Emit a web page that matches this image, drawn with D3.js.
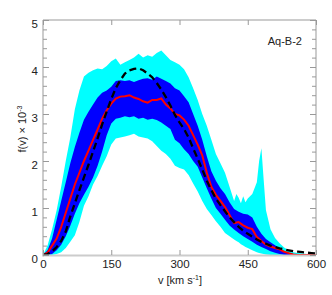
<!DOCTYPE html>
<html><head><meta charset="utf-8">
<script src="https://cdn.jsdelivr.net/npm/d3@7"></script>
<style>body{margin:0;background:#fff}svg{display:block}text{font-family:"Liberation Sans",Arial,sans-serif;fill:#222}</style>
</head><body><svg id="c" width="332" height="295"></svg>
<script>
// ---- data ----
const v = d3.range(0, 601, 10);
const median = [0,0.05,0.2,0.35,0.6,0.9,1.2,1.5,1.75,2.0,2.22,2.45,2.67,2.9,3.08,3.22,3.33,3.37,3.38,3.4,3.35,3.32,3.27,3.24,3.3,3.3,3.33,3.2,3.12,3.0,2.97,2.88,2.75,2.55,2.35,2.12,1.75,1.45,1.28,1.15,1.02,0.85,0.68,0.7,0.63,0.58,0.55,0.38,0.3,0.22,0.18,0.15,0.12,0.07,0.04,0.01,0,0,0,0,0];
const model = [0,0.02,0.08,0.17,0.3,0.5,0.82,1.1,1.38,1.65,1.92,2.2,2.48,2.78,3.05,3.32,3.55,3.72,3.86,3.93,3.96,3.97,3.93,3.86,3.78,3.66,3.52,3.36,3.18,2.98,2.82,2.68,2.5,2.27,2.05,1.82,1.58,1.38,1.2,1.06,0.93,0.8,0.7,0.6,0.52,0.45,0.39,0.33,0.28,0.24,0.2,0.17,0.14,0.12,0.1,0.08,0.07,0.06,0.05,0.04,0.03];
const innerHi = [0,0.1,0.35,0.75,1.15,1.55,1.95,2.3,2.6,2.88,3.05,3.2,3.35,3.45,3.5,3.58,3.7,3.72,3.7,3.72,3.68,3.72,3.75,3.76,3.73,3.8,3.75,3.7,3.65,3.55,3.5,3.38,3.25,3.0,2.75,2.45,2.1,1.78,1.58,1.42,1.3,1.12,0.98,0.92,0.88,0.86,0.8,0.6,0.45,0.34,0.27,0.21,0.14,0.07,0.03,0,0,0,0,0,0];
const innerLo = [0,0,0.02,0.1,0.22,0.4,0.62,0.88,1.1,1.28,1.45,1.65,1.9,2.2,2.55,2.8,2.9,2.92,2.95,2.93,2.95,2.9,2.92,2.88,2.9,2.87,2.82,2.75,2.68,2.45,2.38,2.25,2.15,2.0,1.88,1.65,1.42,1.2,1.0,0.88,0.75,0.63,0.54,0.47,0.4,0.34,0.28,0.22,0.17,0.13,0.08,0.05,0.02,0,0,0,0,0,0,0,0];
const vOuter = [0,10,20,30,40,50,60,70,80,90,100,110,120,130,140,150,160,170,180,190,200,210,220,230,240,250,260,270,280,290,300,310,320,330,340,350,360,370,380,390,400,410,420,425,430,435,440,445,450,460,470,475,480,485,490,500,510,520,530,540,550,560,570,580,590,600];
const outerHi = [0,0.2,0.55,0.95,1.45,2.0,2.5,3.1,3.5,3.8,3.88,3.93,3.97,3.95,4.02,4.12,4.18,4.05,4.1,4.15,4.2,4.28,4.2,4.25,4.22,4.3,4.35,4.25,4.15,4.1,4.05,3.95,3.78,3.55,3.3,3.0,2.75,2.45,2.15,1.95,1.75,1.45,1.15,1.3,1.22,1.1,1.25,1.12,1.2,1.3,1.55,2.0,2.27,1.6,0.95,0.55,0.36,0.25,0.16,0.1,0.06,0.04,0.03,0.02,0.01,0];
const outerLo = [0,0,0,0.02,0.06,0.15,0.28,0.42,0.7,1.05,1.25,1.5,1.68,1.9,2.1,2.35,2.48,2.5,2.52,2.55,2.58,2.52,2.5,2.48,2.42,2.32,2.22,2.15,2.05,1.9,1.85,1.82,1.7,1.52,1.35,1.15,0.98,0.85,0.72,0.6,0.47,0.4,0.33,0.3,0.27,0.23,0.2,0.17,0.15,0.1,0.06,0.04,0.03,0.02,0.01,0,0,0,0,0,0,0,0,0,0,0];
const xTicks = [0,150,300,450,600];
const yTicks = [0,1,2,3,4,5];
const label = "Aq-B-2";

// ---- layout ----
const L = 43, R = 316, T = 20, B = 255;
const svg = d3.select("#c");
const x = d3.scaleLinear().domain([0,600]).range([L,R]);
const y = d3.scaleLinear().domain([0,5]).range([B,T]);

svg.append("defs").append("clipPath").attr("id","clip")
  .append("rect").attr("x",L).attr("y",T-2).attr("width",R-L).attr("height",B-T+2);
const g = svg.append("g").attr("clip-path","url(#clip)");

const areaOuter = d3.area().x((d,i)=>x(vOuter[i])).y0((d,i)=>y(outerLo[i])).y1((d,i)=>y(outerHi[i]));
const areaInner = d3.area().x((d,i)=>x(v[i])).y0((d,i)=>y(innerLo[i])).y1((d,i)=>y(innerHi[i]));
g.append("path").attr("d", areaOuter(vOuter)).attr("fill","#00ffff");
g.append("path").attr("d", areaInner(v)).attr("fill","#0000ff");

const line = arr => d3.line().x((d,i)=>x(v[i])).y((d,i)=>y(arr[i]))(v);
svg.append("path").attr("d", line(median)).attr("fill","none").attr("stroke","#ff0000").attr("stroke-width",2);
svg.append("path").attr("d", line(model)).attr("fill","none").attr("stroke","#000").attr("stroke-width",2.3).attr("stroke-dasharray","7,4");

// ---- axes ----
const ax = svg.append("g");
ax.append("line").attr("x1",L).attr("x2",R).attr("y1",T).attr("y2",T).attr("stroke","#999");
ax.append("line").attr("x1",R).attr("x2",R).attr("y1",T).attr("y2",B).attr("stroke","#999");
ax.append("line").attr("x1",L).attr("x2",L).attr("y1",T).attr("y2",B+1).attr("stroke","#ccc").attr("stroke-width",2);
ax.append("line").attr("x1",L-1).attr("x2",R).attr("y1",B+0.5).attr("y2",B+0.5).attr("stroke","#ccc").attr("stroke-width",2);

const xAxB = d3.axisBottom(x).tickValues(xTicks).tickSize(-5).tickPadding(5).tickFormat(d3.format("d"));
const xAxT = d3.axisTop(x).tickValues(xTicks).tickSize(-5).tickFormat("");
const yMinor = d3.range(0,5.01,0.2).filter(d=>Math.abs(d-Math.round(d))>1e-6);
const yAxL = d3.axisLeft(y).tickValues(yTicks).tickSize(-6).tickPadding(5).tickFormat(d3.format("d"));
const yAxR = d3.axisRight(y).tickValues(yTicks).tickSize(-6).tickFormat("");
const yAxLm = d3.axisLeft(y).tickValues(yMinor).tickSize(-4).tickFormat("");
const yAxRm = d3.axisRight(y).tickValues(yMinor).tickSize(-4).tickFormat("");

function style(sel){
  sel.select(".domain").remove();
  sel.selectAll(".tick line").attr("stroke","#999");
  sel.selectAll(".tick text").attr("fill","#222").style("font-size","11.5px").style("font-family","'Liberation Sans',Arial,sans-serif");
}
svg.append("g").attr("transform",`translate(0,${B})`).call(xAxB).call(style);
svg.append("g").attr("transform",`translate(0,${T})`).call(xAxT).call(style);
const gl = svg.append("g").attr("transform",`translate(${L},0)`).call(yAxL).call(style);
gl.selectAll(".tick text").attr("dy","0.62em");
svg.append("g").attr("transform",`translate(${L},0)`).call(yAxLm).call(style);
svg.append("g").attr("transform",`translate(${R},0)`).call(yAxR).call(style);
svg.append("g").attr("transform",`translate(${R},0)`).call(yAxRm).call(style);

// labels
const xl = svg.append("text").attr("x",180).attr("y",284).attr("text-anchor","middle").style("font-size","11px");
xl.append("tspan").text("v [km s");
xl.append("tspan").text("-1").attr("dy",-4).style("font-size","7px");
xl.append("tspan").text("]").attr("dy",4);

const yl = svg.append("text").attr("transform","translate(26,129) rotate(-90)").attr("text-anchor","middle").style("font-size","11px");
yl.append("tspan").text("f(v) \u00d7 10");
yl.append("tspan").text("-3").attr("dy",-4).style("font-size","7px");

svg.append("text").attr("x",302).attr("y",45).attr("text-anchor","end").style("font-size","11px").text(label);
</script></body></html>
